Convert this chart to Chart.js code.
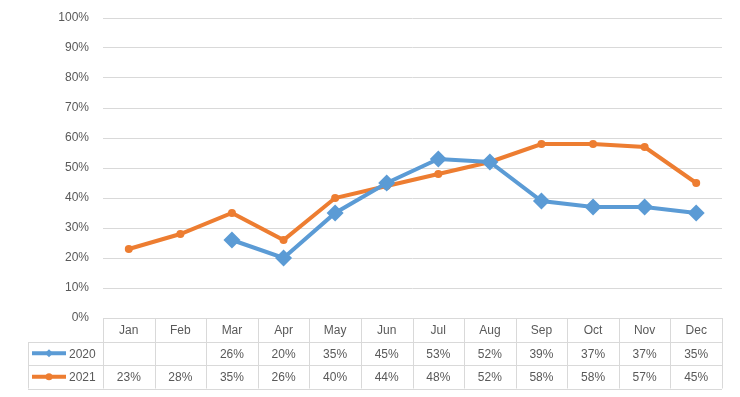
<!DOCTYPE html>
<html>
<head>
<meta charset="utf-8">
<script src="https://cdn.jsdelivr.net/npm/chart.js@4"></script>
<style>
  html, body { margin: 0; padding: 0; background: #fff; }
  #wrap { width: 740px; height: 397px; }
</style>
</head>
<body>
<div id="wrap"><canvas id="chart" width="740" height="397"></canvas></div>
<script>
var months = ['Jan','Feb','Mar','Apr','May','Jun','Jul','Aug','Sep','Oct','Nov','Dec']
var values2020 = [null, null, 26, 20, 35, 45, 53, 52, 39, 37, 37, 35]
var values2021 = [23, 28, 35, 26, 40, 44, 48, 52, 58, 58, 57, 45]
var yTicks = [0, 10, 20, 30, 40, 50, 60, 70, 80, 90, 100]

var blue = '#5B9BD5', orange = '#ED7D31'
var gridColor = '#D9D9D9', textColor = '#595959'
var font = '12px "Liberation Sans", Arial, sans-serif'

// data table under the plot, Excel style
var tablePlugin = {
    id: 'dataTable',
    afterDraw: function(chart){
        var ctx = chart.ctx
        var area = chart.chartArea
        var x = chart.scales.x
        var colW = (area.right - area.left) / months.length
        var rowH = 23.5
        var top = area.bottom
        var legendLeft = 28
        var series = chart.data.datasets

        ctx.save()
        ctx.strokeStyle = gridColor
        ctx.lineWidth = 1
        ctx.beginPath()
        // horizontal lines
        ctx.moveTo(area.left, top + 0.5); ctx.lineTo(area.right, top + 0.5)
        for (var r = 1; r <= 3; r++) {
            var yy = Math.round(top + r * rowH) + 0.5
            ctx.moveTo(legendLeft, yy); ctx.lineTo(area.right, yy)
        }
        // vertical lines
        for (var c = 0; c <= months.length; c++) {
            var xx = Math.round(area.left + c * colW) + 0.5
            ctx.moveTo(xx, top); ctx.lineTo(xx, top + 3 * rowH)
        }
        ctx.moveTo(legendLeft + 0.5, Math.round(top + rowH)); ctx.lineTo(legendLeft + 0.5, top + 3 * rowH)
        ctx.stroke()

        ctx.font = font
        ctx.fillStyle = textColor
        ctx.textAlign = 'center'
        ctx.textBaseline = 'middle'
        for (var i = 0; i < months.length; i++) {
            var cx = x.getPixelForValue(i)
            ctx.fillText(months[i], cx, top + rowH / 2 + 1)
            for (var s = 0; s < series.length; s++) {
                var v = series[s].data[i]
                if (v != null) ctx.fillText(v + '%', cx, top + rowH * (s + 1.5) + 1)
            }
        }

        // legend keys
        for (var s = 0; s < series.length; s++) {
            var ds = series[s]
            var ky = top + rowH * (s + 1.5)
            ctx.strokeStyle = ds.borderColor
            ctx.lineWidth = 4
            ctx.beginPath()
            ctx.moveTo(32, ky); ctx.lineTo(66, ky)
            ctx.stroke()
            ctx.fillStyle = ds.borderColor
            if (ds.pointStyle == 'rectRot') {
                ctx.beginPath()
                ctx.moveTo(49, ky - 4); ctx.lineTo(53, ky); ctx.lineTo(49, ky + 4); ctx.lineTo(45, ky)
                ctx.closePath(); ctx.fill()
            } else {
                ctx.beginPath(); ctx.arc(49, ky, 3.5, 0, Math.PI * 2); ctx.fill()
            }
            ctx.fillStyle = textColor
            ctx.textAlign = 'left'
            ctx.fillText(ds.label, 69, ky + 1)
        }
        ctx.restore()
    }
}

var ctx = document.getElementById('chart').getContext('2d')
new Chart(ctx, {
    type: 'line',
    data: {
        labels: months,
        datasets: [{
            label: '2020',
            data: values2020,
            borderColor: blue,
            backgroundColor: blue,
            borderWidth: 4,
            pointStyle: 'rectRot',
            pointRadius: 8.5,
            pointBorderWidth: 0,
            pointHoverRadius: 8.5,
            tension: 0
        }, {
            label: '2021',
            data: values2021,
            borderColor: orange,
            backgroundColor: orange,
            borderWidth: 4,
            pointStyle: 'circle',
            pointRadius: 4,
            pointBorderWidth: 0,
            pointHoverRadius: 4,
            tension: 0
        }]
    },
    options: {
        responsive: false,
        animation: false,
        layout: { padding: { top: 18, right: 18, bottom: 79, left: 0 } },
        plugins: {
            legend: { display: false },
            tooltip: { enabled: false }
        },
        scales: {
            x: {
                type: 'category',
                offset: true,
                display: false
            },
            y: {
                min: 0,
                max: 100,
                afterFit: function(scale){
                    scale.width = 103
                    scale.paddingTop = 0
                    scale.paddingBottom = 0
                },
                afterBuildTicks: function(scale){
                    scale.ticks = yTicks.map(function(v){ return {value: v} })
                },
                border: { display: false },
                grid: { color: gridColor, drawTicks: false },
                ticks: {
                    padding: 14,
                    color: textColor,
                    font: { family: '"Liberation Sans", Arial, sans-serif', size: 12 },
                    callback: function(v){ return v + '%' }
                }
            }
        }
    },
    plugins: [tablePlugin]
});
</script>
</body>
</html>
